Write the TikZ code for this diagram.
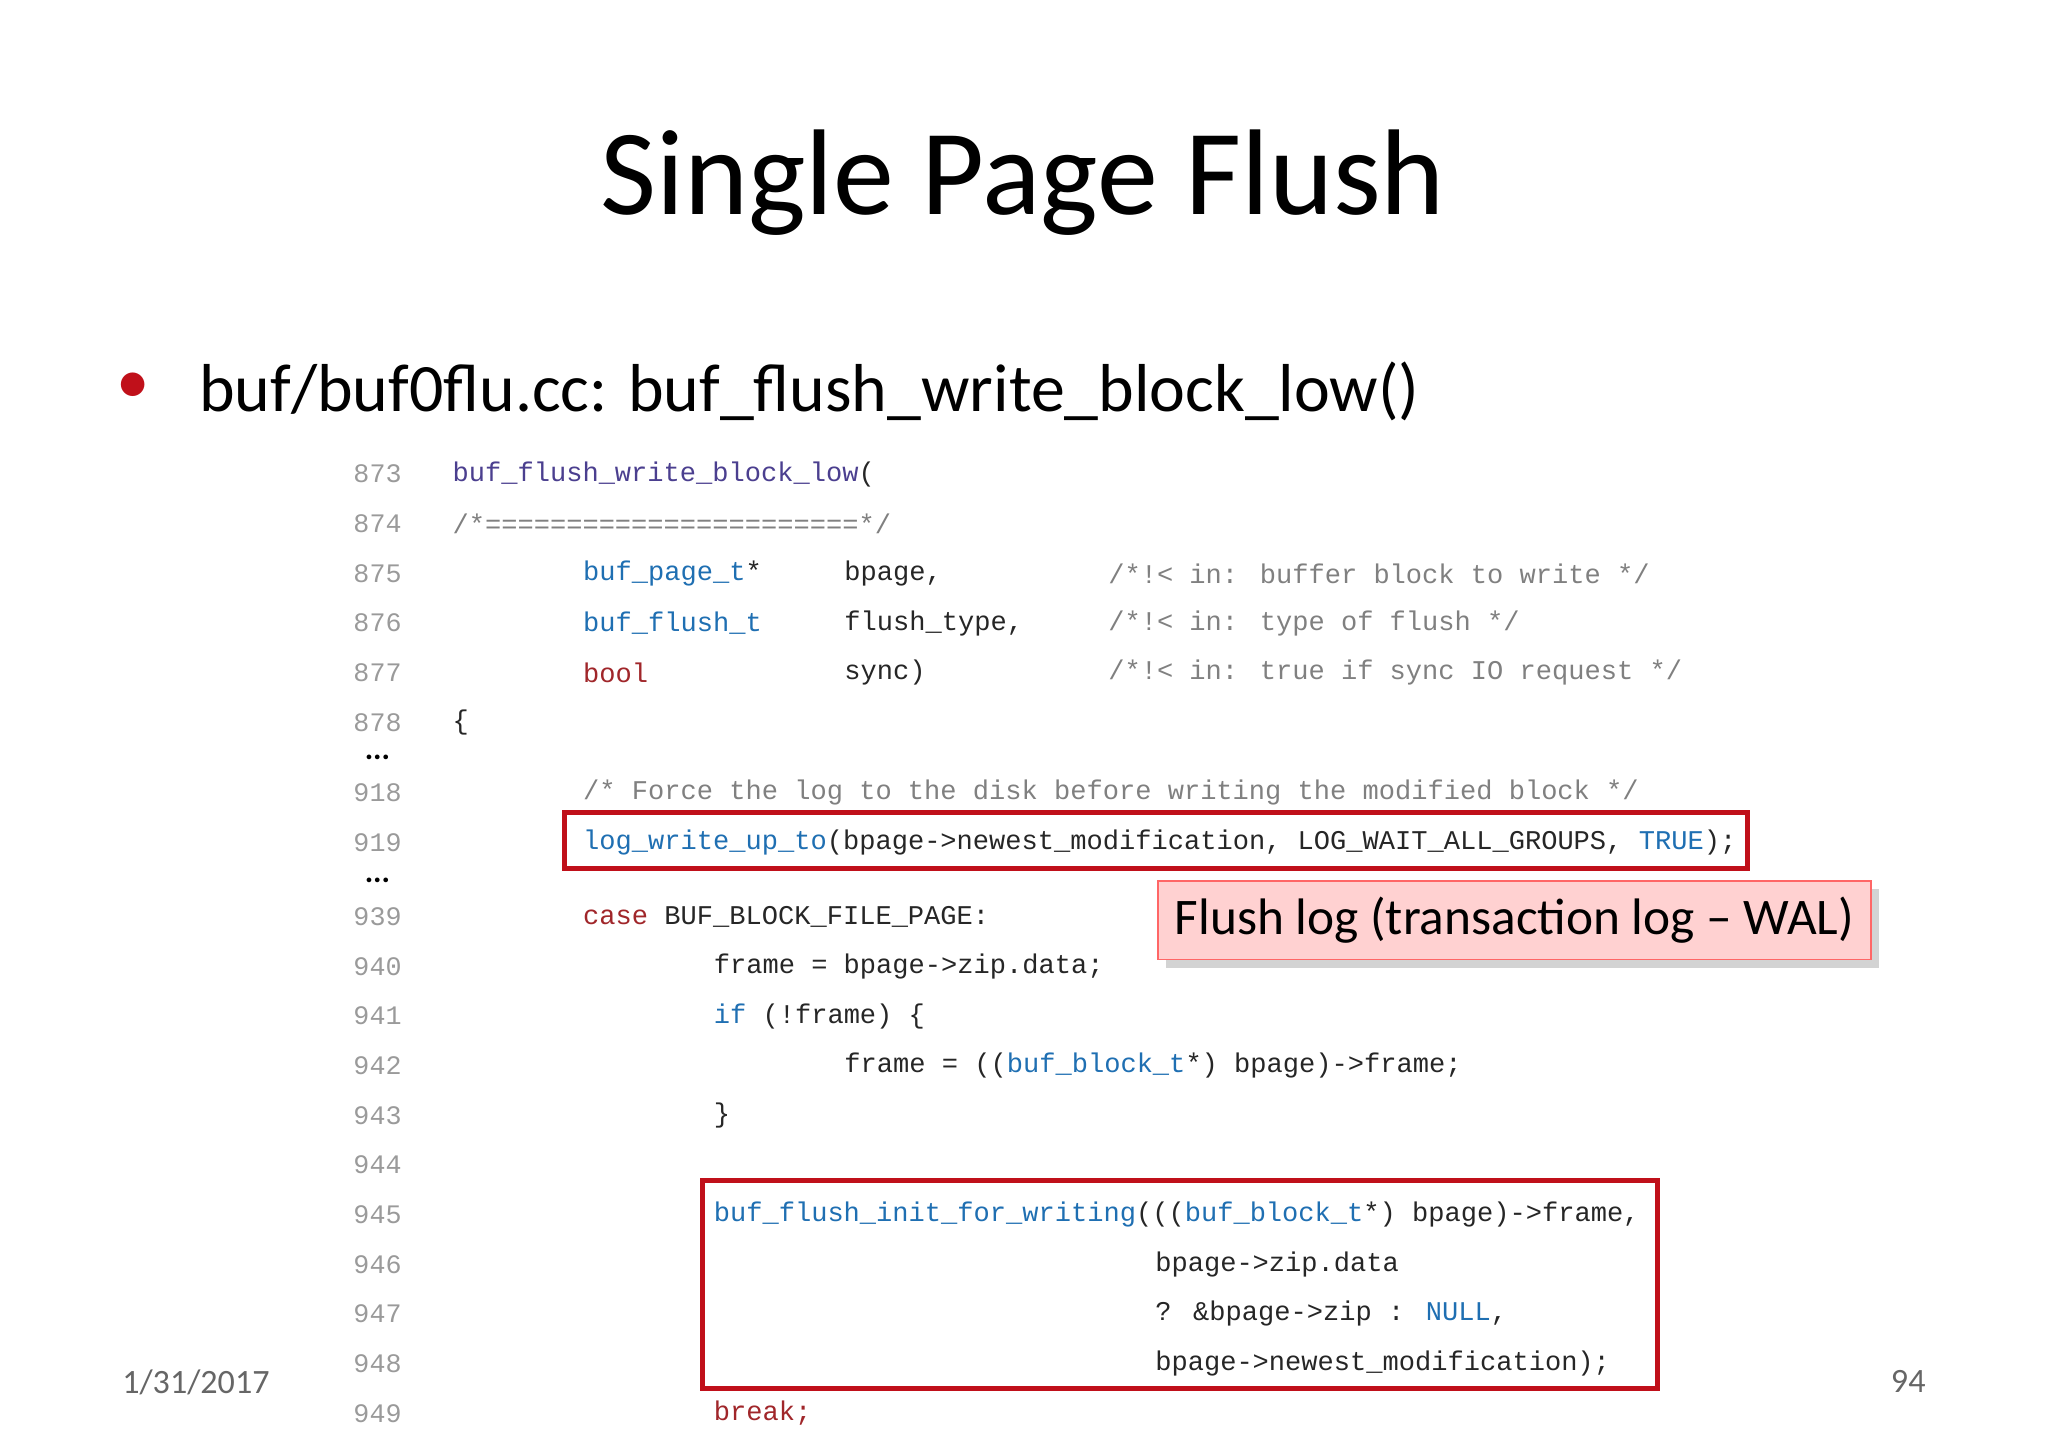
\documentclass[tikz,border=0pt]{standalone}
\usepackage{fontspec}
\setmainfont{Carlito}
\newfontfamily\codefont{Liberation Mono}
\usetikzlibrary{shadows}
\definecolor{lnum}{HTML}{9A9A9A}
\definecolor{fname}{HTML}{4B3F8F}
\definecolor{ctype}{HTML}{1F6FB2}
\definecolor{kword}{HTML}{A0262A}
\definecolor{cmt}{HTML}{808080}
\definecolor{boxred}{HTML}{C0101A}
\tikzset{
  lineno/.style={anchor=east,text=lnum,font=\codefont\fontsize{7.6}{9}\selectfont,inner sep=0pt},
  code/.style={anchor=west,font=\codefont\fontsize{7.7}{9}\selectfont,inner sep=0pt,text=black!85},
  markbox/.style={draw=boxred,line width=1.3pt},
  callout/.style={draw=red!60,fill=red!18,drop shadow={opacity=0.35},anchor=north west,
    minimum width=546*0.01306cm,minimum height=60*0.01306cm,font=\fontsize{14.6}{18}\selectfont}
}
\begin{document}
\begin{tikzpicture}[x=0.01306cm,y=-0.01306cm]
\useasboundingbox (0,0) rectangle (1568,1108);
% title and bullet
\node[font=\fontsize{34.7}{40}\selectfont] (title) at (783,140) {Single Page Flush};
\node[text=boxred,font=\fontsize{19}{24}\selectfont] (dot) at (102,297) {•};
\node[anchor=west,inner sep=0pt,font=\fontsize{19.3}{24}\selectfont] (bullet) at (152,300) {buf/buf0flu.cc: buf\_flush\_write\_block\_low()};
% line numbers
\foreach \y/\n in {363/873,401/874,439/875,477/876,515/877,553/878,607/918,645/919,702/939,740/940,778/941,816/942,854/943,892/944,930/945,968/946,1006/947,1044/948,1082/949}
  \node[lineno] (n\n) at (308,\y) {\n};
\node[font=\bfseries\small] (gap1) at (289,580) {...};
\node[font=\bfseries\small] (gap2) at (289,674) {...};
% code
\node[code] (c873) at (346,363) {\textcolor{fname}{buf\_flush\_write\_block\_low}(};
\node[code,text=cmt] (c874) at (346,401) {/*=======================*/};
\node[code] (c875) at (446,439) {\textcolor{ctype}{buf\_page\_t}*};
\node[code] (d875) at (646,439) {bpage,};
\node[code,text=cmt] (e875) at (848,439) {/*!< in: buffer block to write */};
\node[code,text=ctype] (c876) at (446,477) {buf\_flush\_t};
\node[code] (d876) at (646,477) {flush\_type,};
\node[code,text=cmt] (e876) at (848,477) {/*!< in: type of flush */};
\node[code,text=kword] (c877) at (446,515) {bool};
\node[code] (d877) at (646,515) {sync)};
\node[code,text=cmt] (e877) at (848,515) {/*!< in: true if sync IO request */};
\node[code] (c878) at (346,553) {\{};
\node[code,text=cmt] (c918) at (446,607) {/* Force the log to the disk before writing the modified block */};
\node[code] (c919) at (446,645) {\textcolor{ctype}{log\_write\_up\_to}(bpage->newest\_modification, LOG\_WAIT\_ALL\_GROUPS, \textcolor{ctype}{TRUE});};
\node[code] (c939) at (446,702) {\textcolor{kword}{case} BUF\_BLOCK\_FILE\_PAGE:};
\node[code] (c940) at (546,740) {frame = bpage->zip.data;};
\node[code] (c941) at (546,778) {\textcolor{ctype}{if} (!frame) \{};
\node[code] (c942) at (646,816) {frame = ((\textcolor{ctype}{buf\_block\_t}*) bpage)->frame;};
\node[code] (c943) at (546,854) {\}};
\node[code] (c945) at (546,930) {\textcolor{ctype}{buf\_flush\_init\_for\_writing}(((\textcolor{ctype}{buf\_block\_t}*) bpage)->frame,};
\node[code] (c946) at (884,968) {bpage->zip.data};
\node[code] (c947) at (884,1006) {? \&bpage->zip : \textcolor{ctype}{NULL},};
\node[code] (c948) at (884,1044) {bpage->newest\_modification);};
\node[code,text=kword] (c949) at (546,1082) {break;};
% highlights
\draw[markbox] (432,622) rectangle (1338,665);
\draw[markbox] (538,904) rectangle (1269,1063);
\node[callout] (wal) at (886,674) {Flush log (transaction log – WAL)};
% footer
\node[text=black!60,font=\fontsize{9.7}{12}\selectfont] (date) at (150,1058) {1/31/2017};
\node[text=black!60,font=\fontsize{9.7}{12}\selectfont] (page) at (1461,1058) {94};
\end{tikzpicture}
\end{document}
